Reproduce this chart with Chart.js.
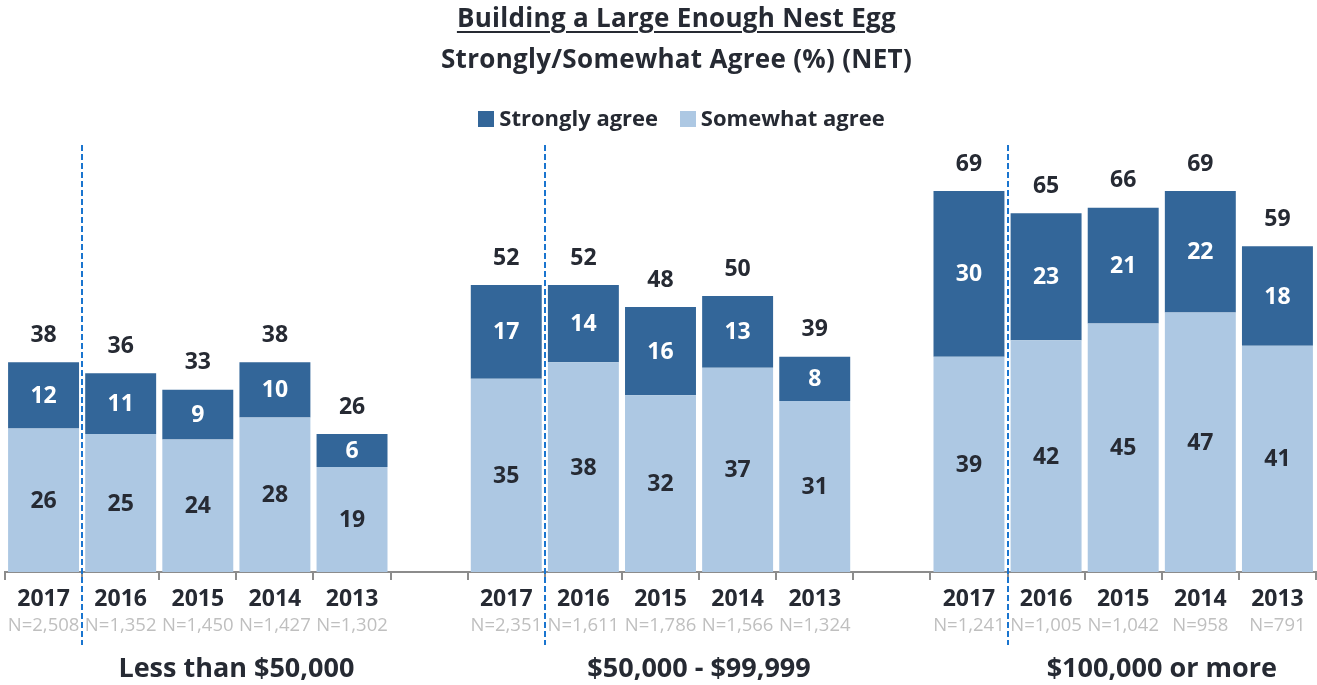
<!DOCTYPE html>
<html>
<head>
<meta charset="utf-8">
<script src="https://cdn.jsdelivr.net/npm/chart.js@4.4.1/dist/chart.umd.min.js"></script>
<style>
    body { margin: 0; background: #fff; font-family: "Open Sans", Lato, sans-serif; }
    #wrap { position: relative; width: 1317px; height: 685px; }
    #wrap canvas { position: absolute; left: 0; top: 0; }
    .head { position: absolute; left: 0; width: 1317px; text-align: center; color: #262a33; font-weight: bold; }
    #title1 { top: 0px; left: 18px; font-size: 26px; line-height: 34px; letter-spacing: 0.3px; }
    #title1 span { text-decoration: underline; text-decoration-thickness: 2px; text-underline-offset: 4px; }
    #title2 { top: 41px; left: 18px; font-size: 26px; line-height: 34px; letter-spacing: 0.3px; }
    #legend { top: 102px; left: 23px; font-size: 22px; line-height: 30px; }
    #legend .sw { display: inline-block; width: 16px; height: 16px; margin: 0 5px 0 0; vertical-align: -1px; }
    #legend .item { margin: 0 8px; }
</style>
</head>
<body>
<div id="wrap">
    <canvas id="nestChart" width="1317" height="685"></canvas>
    <div class="head" id="title1"><span>Building a Large Enough Nest Egg</span></div>
    <div class="head" id="title2">Strongly/Somewhat Agree (%) (NET)</div>
    <div class="head" id="legend">
        <span class="item"><span class="sw" style="background:#336699"></span>Strongly agree</span>
        <span class="item"><span class="sw" style="background:#adc8e3"></span>Somewhat agree</span>
    </div>
</div>
<script>
// Chart data (blank slots separate the income groups)
const years = ['2017', '2016', '2015', '2014', '2013', '', '2017', '2016', '2015', '2014', '2013', '', '2017', '2016', '2015', '2014', '2013'];
const sampleSizes = ['N=2,508', 'N=1,352', 'N=1,450', 'N=1,427', 'N=1,302', '',
    'N=2,351', 'N=1,611', 'N=1,786', 'N=1,566', 'N=1,324', '',
    'N=1,241', 'N=1,005', 'N=1,042', 'N=958', 'N=791'];
const somewhatAgree = [26, 25, 24, 28, 19, null, 35, 38, 32, 37, 31, null, 39, 42, 45, 47, 41];
const stronglyAgree = [12, 11, 9, 10, 6, null, 17, 14, 16, 13, 8, null, 30, 23, 21, 22, 18];
const netAgree = [38, 36, 33, 38, 26, null, 52, 52, 48, 50, 39, null, 69, 65, 66, 69, 59];
const groupNames = ['Less than $50,000', '$50,000 - $99,999', '$100,000 or more'];
const groupStart = [0, 6, 12];

const darkText = '#262a33';
const font = '"Open Sans", Lato, sans-serif';

// Labels, sample sizes, group names and divider lines
const annotate = {
    id: 'annotate',
    afterDatasetsDraw(chart) {
        const ctx = chart.ctx;
        const x = chart.scales.x;
        const lower = chart.getDatasetMeta(0).data;
        const upper = chart.getDatasetMeta(1).data;
        ctx.save();
        ctx.textAlign = 'center';
        ctx.textBaseline = 'middle';
        ctx.font = 'bold 23px ' + font;
        years.forEach((yr, i) => {
            if (somewhatAgree[i] == null) return;
            const a = lower[i], b = upper[i];
            ctx.fillStyle = darkText;
            ctx.fillText(somewhatAgree[i], a.x, (a.y + a.base) / 2 + 1);
            ctx.fillStyle = '#ffffff';
            ctx.fillText(stronglyAgree[i], b.x, (b.y + b.base) / 2 + 1);
            ctx.fillStyle = darkText;
            ctx.fillText(netAgree[i], b.x, b.y - 27);
        });

        ctx.font = '18.5px ' + font;
        ctx.fillStyle = '#bfbfbf';
        sampleSizes.forEach((n, i) => {
            if (n) ctx.fillText(n, x.getPixelForValue(i), 626);
        });

        ctx.font = 'bold 27px ' + font;
        ctx.fillStyle = darkText;
        groupStart.forEach((s, g) => {
            const cx = (x.getPixelForValue(s + 2) + x.getPixelForValue(s + 3)) / 2;
            ctx.fillText(groupNames[g], cx, 669);
        });

        ctx.strokeStyle = '#1a75cf';
        ctx.lineWidth = 2;
        ctx.setLineDash([6, 3]);
        groupStart.forEach(s => {
            const lx = Math.round((x.getPixelForValue(s) + x.getPixelForValue(s + 1)) / 2);
            ctx.beginPath();
            ctx.moveTo(lx, 145);
            ctx.lineTo(lx, 645);
            ctx.stroke();
        });
        ctx.restore();
    }
};

new Chart(document.getElementById('nestChart'), {
    type: 'bar',
    data: {
        labels: years,
        datasets: [
            {
                label: 'Somewhat agree',
                data: somewhatAgree,
                backgroundColor: '#adc8e3'
            },
            {
                label: 'Strongly agree',
                data: stronglyAgree,
                backgroundColor: '#336699'
            }
        ]
    },
    options: {
        responsive: false,
        animation: false,
        layout: { padding: { top: 158, left: 5, right: 1, bottom: 0 } },
        datasets: { bar: { barPercentage: 0.92, categoryPercentage: 1 } },
        plugins: { legend: { display: false }, tooltip: { enabled: false } },
        scales: {
            x: {
                stacked: true,
                afterFit(scale) { scale.height = 113; },
                border: { color: '#8c8c8c', width: 2 },
                grid: { drawOnChartArea: false, color: '#8c8c8c', lineWidth: 2, tickLength: 8, offset: true },
                ticks: {
                    autoSkip: false,
                    maxRotation: 0,
                    padding: 6,
                    color: darkText,
                    font: { family: font, size: 23, weight: 'bold' }
                }
            },
            y: {
                stacked: true,
                display: false,
                min: 0,
                max: 75
            }
        }
    },
    plugins: [annotate]
});
</script>
</body>
</html>
